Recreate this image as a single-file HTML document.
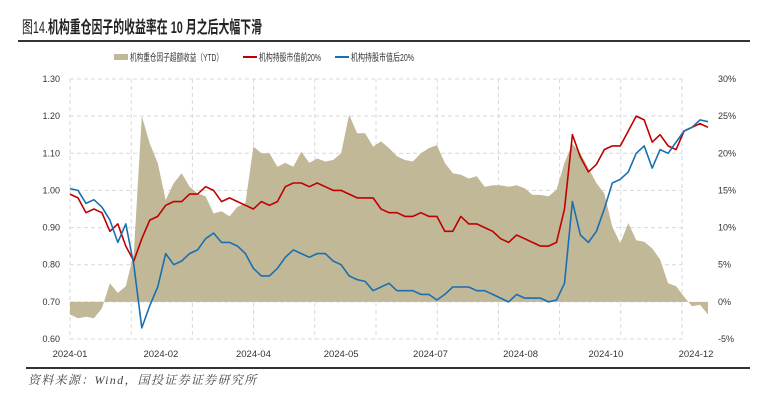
<!DOCTYPE html>
<html><head><meta charset="utf-8">
<style>
html,body{margin:0;padding:0;background:#fff;}
body{width:773px;height:406px;overflow:hidden;position:relative;font-family:"Liberation Sans","Noto Sans CJK SC",sans-serif;}
#title{position:absolute;left:22px;top:13px;font-size:17px;font-weight:bold;color:#222;white-space:nowrap;transform:scaleX(0.64);transform-origin:0 0;}
#title .fig{font-weight:normal;}
#footer{position:absolute;left:28px;top:371px;font-size:12px;font-style:italic;color:#444;letter-spacing:1.3px;font-family:"Liberation Serif","Noto Serif CJK SC",serif;}
svg{position:absolute;left:0;top:0;}
</style></head><body>
<div id="title"><span class="fig">图14.</span>机构重仓因子的收益率在 10 月之后大幅下滑</div>
<svg id="chart" width="773" height="406"></svg>
<div id="footer">资料来源：Wind，国投证券证券研究所</div>
<script>
const xLabels = ["2024-01","2024-02","2024-04","2024-05","2024-07","2024-08","2024-10","2024-12"];
const xLabelPos = [0, 11.4, 23, 34, 45.2, 56.5, 67.2, 78.5];
const leftTicks = [0.60,0.70,0.80,0.90,1.00,1.10,1.20,1.30];
const rightTicks = [-5,0,5,10,15,20,25,30];
const redSeries = [0.99,0.98,0.94,0.95,0.94,0.89,0.91,0.85,0.81,0.87,0.92,0.93,0.96,0.97,0.97,0.99,0.99,1.01,1.00,0.97,0.98,0.97,0.96,0.95,0.97,0.96,0.97,1.01,1.02,1.02,1.01,1.02,1.01,1.00,1.00,0.99,0.98,0.98,0.98,0.95,0.94,0.94,0.93,0.93,0.94,0.93,0.93,0.89,0.89,0.93,0.91,0.91,0.90,0.89,0.87,0.86,0.88,0.87,0.86,0.85,0.85,0.86,0.95,1.15,1.09,1.05,1.07,1.11,1.12,1.12,1.16,1.20,1.19,1.13,1.15,1.12,1.11,1.16,1.17,1.18,1.17];
const blueSeries = [1.005,1.00,0.965,0.975,0.955,0.92,0.86,0.91,0.80,0.63,0.69,0.74,0.83,0.80,0.81,0.83,0.84,0.87,0.885,0.86,0.86,0.85,0.83,0.79,0.77,0.77,0.79,0.82,0.84,0.83,0.82,0.83,0.83,0.81,0.80,0.77,0.76,0.755,0.73,0.74,0.75,0.73,0.73,0.73,0.72,0.72,0.705,0.72,0.74,0.74,0.74,0.73,0.73,0.72,0.71,0.70,0.72,0.71,0.71,0.71,0.70,0.705,0.75,0.97,0.88,0.86,0.89,0.95,1.02,1.03,1.05,1.10,1.12,1.06,1.11,1.10,1.13,1.16,1.17,1.19,1.185];
const areaSeries = [-1.7,-2.2,-2.0,-2.2,-0.9,2.5,1.2,2.1,6.5,25,21.3,18.7,13.7,16,17.3,15.5,14.6,14.2,11.9,12.2,11.5,12.8,13.3,20.9,20,20,18.2,18.7,18.2,20.2,18.7,19.3,18.9,19.1,20,25.2,22.7,22.7,20.9,21.6,20.7,19.6,19.1,18.9,20,20.7,21.1,18.7,17.3,17.1,16.6,16.9,15.5,15.7,15.7,15.5,15.7,15.3,14.4,14.4,14.2,15.1,18.7,21.3,20,18,16,14.6,10.1,7.9,10.6,8.3,8.1,7.2,5.7,2.5,2.1,0.7,-0.6,-0.4,-1.7];

const svg = document.getElementById('chart');
const NS = 'http://www.w3.org/2000/svg';
const X0 = 70, X1 = 708, YT = 79, YB = 339;
const N = redSeries.length;
function xAt(i){ return X0 + (X1 - X0) * i / (N - 1); }
function yL(v){ return YB - (v - 0.60) / 0.70 * (YB - YT); }
function yR(p){ return YB - (p + 5) / 35 * (YB - YT); }
function mk(tag, attrs){ const e = document.createElementNS(NS, tag); for (const k in attrs) e.setAttribute(k, attrs[k]); svg.appendChild(e); return e; }

let e = mk('line',{x1:18,y1:41,x2:750,y2:41,stroke:'#333','stroke-width':2});


e = mk('line',{x1:26,y1:368,x2:750,y2:368,stroke:'#333','stroke-width':2});



leftTicks.forEach(v => {
  const y = yL(v);
  const g = mk('line',{x1:X0,y1:y,x2:682,y2:y,stroke:'#d9d9d9','stroke-width':1,'stroke-dasharray':'4,3'});
  
  
  const t = mk('text',{x:60,y:y+3,'text-anchor':'end','font-size':9,fill:'#333'});
  t.textContent = v.toFixed(2);
  
  
});
rightTicks.forEach(p => {
  const y = yR(p);
  const t = mk('text',{x:718,y:y+3,'text-anchor':'start','font-size':9,fill:'#333'});
  t.textContent = p + '%';
  
  
});
for (let k = 0; k <= 10; k++) {
  const x = X0 + k * 61.2;
  const g = mk('line',{x1:x,y1:YT,x2:x,y2:YB,stroke:'#d9d9d9','stroke-width':1,'stroke-dasharray':'4,3'});
  
  
}
xLabels.forEach((s, j) => {
  const t = mk('text',{x:xAt(xLabelPos[j]),y:357,'text-anchor':'middle','font-size':9.5,fill:'#333'});
  t.textContent = s;
  
  
});

let d = 'M' + xAt(0) + ',' + yR(0);
areaSeries.forEach((p, i) => { d += ' L' + xAt(i).toFixed(1) + ',' + yR(p).toFixed(1); });
d += ' L' + xAt(N-1) + ',' + yR(0) + ' Z';
e = mk('path',{d:d,fill:'#c1b898',stroke:'none'});



function line(arr, color, name){
  let dd = '';
  arr.forEach((v, i) => { dd += (i ? ' L' : 'M') + xAt(i).toFixed(1) + ',' + yL(v).toFixed(1); });
  const p = mk('path',{d:dd,fill:'none',stroke:color,'stroke-width':1.6,'stroke-linejoin':'round'});
  
  
}
line(redSeries,'#c00000','top20-line');
line(blueSeries,'#1a6fb0','bottom20-line');

const leg = [
  {type:'rect',color:'#c1b898',label:'机构重仓因子超额收益（YTD）',x:114,w:93},
  {type:'line',color:'#c00000',label:'机构持股市值前20%',x:243,w:62},
  {type:'line',color:'#1a6fb0',label:'机构持股市值后20%',x:335,w:63}
];
leg.forEach(l => {
  let m;
  if (l.type === 'rect') m = mk('rect',{x:l.x,y:54,width:14,height:6,fill:l.color});
  else m = mk('line',{x1:l.x,y1:57,x2:l.x+14,y2:57,stroke:l.color,'stroke-width':2});
  
  
  const t = mk('text',{x:l.x+16,y:61,'font-size':10,fill:'#333',textLength:l.w,lengthAdjust:'spacingAndGlyphs'});
  t.textContent = l.label;
  
  
});
</script>
</body></html>
